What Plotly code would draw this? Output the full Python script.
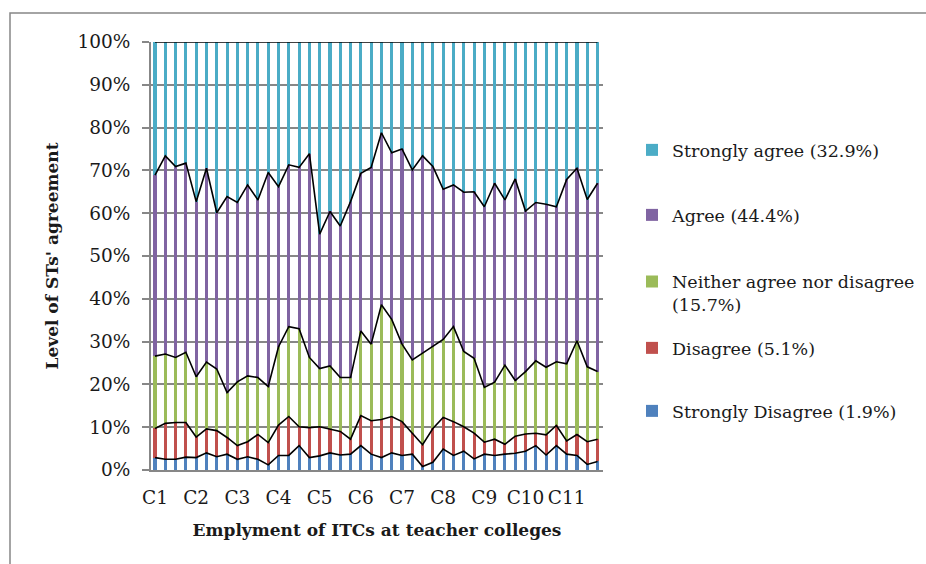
import numpy as np
import plotly.graph_objects as go

# ---- data (percent of respondents, 44 items; labels every 4 items) ----
items = list(range(44))
tick_positions = [0, 4, 8, 12, 16, 20, 24, 28, 32, 36, 40]
tick_labels = ["C1", "C2", "C3", "C4", "C5", "C6", "C7", "C8", "C9", "C10", "C11"]

strongly_disagree = [2.9, 2.5, 2.5, 3.0, 2.9, 4.0, 3.1, 3.7, 2.5, 3.1, 2.5, 1.2, 3.4, 3.4, 5.7,
                     2.9, 3.3, 4.0, 3.5, 3.7, 5.7, 3.7, 2.9, 4.0, 3.4, 3.7, 0.8, 1.8, 4.9, 3.4,
                     4.4, 2.6, 3.7, 3.4, 3.7, 3.9, 4.4, 5.7, 3.5, 5.7, 3.7, 3.4, 1.3, 2.0]
disagree = [6.8, 8.4, 8.6, 8.1, 4.8, 5.6, 6.1, 3.9, 3.2, 3.5, 5.8, 5.2, 7.1, 9.1, 4.4,
            7.0, 6.8, 5.5, 5.5, 3.5, 7.0, 7.8, 8.9, 8.5, 7.9, 4.9, 5.1, 7.9, 7.4, 7.9,
            5.7, 6.0, 2.8, 3.8, 2.3, 4.0, 4.0, 2.9, 4.7, 4.7, 3.1, 4.9, 5.3, 5.2]
neither = [16.9, 16.2, 15.2, 16.4, 14.1, 15.6, 14.4, 10.5, 14.9, 15.4, 13.3, 13.1, 18.3, 21.0, 22.9,
           16.4, 13.6, 14.8, 12.6, 14.4, 19.8, 17.9, 26.8, 22.7, 18.1, 17.1, 21.4, 19.1, 18.2, 22.2,
           17.6, 17.5, 12.8, 13.3, 18.5, 13.0, 14.6, 16.9, 15.8, 14.9, 18.0, 21.9, 17.5, 15.8]
agree = [42.3, 46.3, 44.6, 44.2, 40.9, 45.3, 36.5, 45.8, 41.9, 44.6, 41.5, 50.0, 37.4, 37.8, 37.7,
         47.6, 31.4, 36.1, 35.4, 41.1, 36.8, 41.3, 40.2, 38.9, 45.6, 44.4, 46.1, 42.1, 35.1, 33.1,
         37.2, 38.9, 42.2, 46.5, 38.6, 47.1, 37.5, 37.0, 38.1, 36.2, 43.1, 40.3, 39.1, 44.0]
strongly_agree = [31.1, 26.6, 29.1, 28.3, 37.3, 29.5, 39.9, 36.1, 37.5, 33.4, 36.9, 30.5, 33.8, 28.7, 29.3,
                  26.1, 44.9, 39.6, 43.0, 37.3, 30.7, 29.3, 21.2, 25.9, 25.0, 29.9, 26.6, 29.1, 34.4, 33.4,
                  35.1, 35.0, 38.5, 33.0, 36.9, 32.0, 39.5, 37.5, 37.9, 38.5, 32.1, 29.5, 36.8, 33.0]

series_names = ["Strongly Disagree (1.9%)", "Disagree (5.1%)",
                "Neither agree nor disagree<br>(15.7%)", "Agree (44.4%)",
                "Strongly agree (32.9%)"]
series_values = [strongly_disagree, disagree, neither, agree, strongly_agree]
colors = ["#4F81BD", "#C0504D", "#9BBB59", "#8064A2", "#4BACC6"]

# layout geometry (pixels)
W, H = 926, 564
L, R, T, B = 151, 603, 42, 470
pw, ph = R - L, B - T

def px_x(x):
    return (x - L) / pw

def px_y(y):
    return (B - y) / ph

FONT = "DejaVu Serif"
TICK_FS = 18.5
LEG_FS = 17.5
TITLE_FS = 17
TXT = "#1a1a1a"

fig = go.Figure()
legend_ids = ["legend5", "legend4", "legend3", "legend2", "legend"]
for name, vals, col, lg in zip(series_names, series_values, colors, legend_ids):
    fig.add_trace(go.Bar(x=items, y=vals, name=name, marker=dict(color=col, line=dict(width=0)),
                         width=0.3, legend=lg))

# series lines connecting the tops of the stacked segments
cum = np.cumsum(np.array(series_values), axis=0)
for row in cum:
    fig.add_trace(go.Scatter(x=items, y=row, mode="lines", line=dict(color="black", width=1.6),
                             showlegend=False, hoverinfo="skip"))

# legend item centres (pixel y)
legend_centres = {"legend": 150, "legend2": 215, "legend3": 293, "legend4": 348, "legend5": 411}
leg_layout = {}
for lg, cy in legend_centres.items():
    leg_layout[lg] = dict(x=px_x(632), xanchor="left", y=px_y(cy), yanchor="middle",
                          font=dict(family=FONT, size=LEG_FS, color=TXT),
                          bgcolor="rgba(0,0,0,0)", borderwidth=0,
                          valign="top" if lg == "legend3" else "middle")

fig.update_layout(
    width=W, height=H,
    margin=dict(l=L, r=W - R, t=T, b=H - B, autoexpand=False),
    barmode="stack", bargap=0,
    plot_bgcolor="white", paper_bgcolor="white",
    font=dict(family=FONT, size=TICK_FS, color=TXT),
    **leg_layout,
)

fig.update_xaxes(
    range=[-0.39, 43.53], tickvals=tick_positions, ticktext=tick_labels,
    showgrid=False, zeroline=False, showline=True, linecolor="#878787", linewidth=2,
    ticks="", ticklabelstandoff=10, tickfont=dict(family=FONT, size=TICK_FS, color=TXT),
    title=dict(text="<b>Emplyment of ITCs at teacher colleges</b>", standoff=17,
               font=dict(family=FONT, size=TITLE_FS, color=TXT)),
)
fig.update_yaxes(
    range=[0, 100], dtick=10, ticksuffix="%",
    showgrid=True, gridcolor="#878787", gridwidth=1.5, zeroline=False,
    showline=True, linecolor="#878787", linewidth=2,
    ticks="outside", ticklen=7, tickcolor="#878787", tickwidth=1.5,
    ticklabelstandoff=8,
    tickfont=dict(family=FONT, size=TICK_FS, color=TXT),
    title=dict(text="<b>Level of STs' agreement</b>", standoff=14,
               font=dict(family=FONT, size=TITLE_FS, color=TXT)),
)

# chart-area border (left and top edges visible)
fig.add_shape(type="path", xref="paper", yref="paper",
              path=f"M {px_x(10)} {px_y(H + 5)} L {px_x(10)} {px_y(13)} L {px_x(W + 5)} {px_y(13)}",
              line=dict(color="#878787", width=1.5), layer="above")

fig.write_html("out.html", config={"displayModeBar": False},
               post_script="document.body.style.margin='0';")
